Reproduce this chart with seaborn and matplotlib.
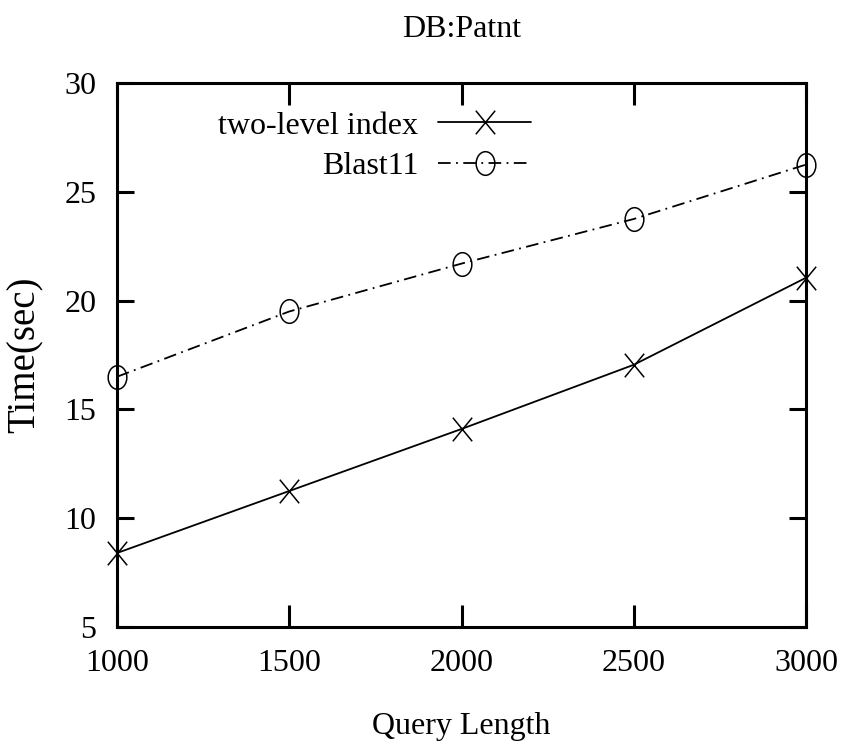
import numpy as np
import pandas as pd
import matplotlib
matplotlib.use("Agg")
import matplotlib.pyplot as plt
import seaborn as sns
from matplotlib.path import Path
from matplotlib.transforms import Affine2D

# ---- data ----
query_length = [1000, 1500, 2000, 2500, 3000]
two_level_index = [8.4, 11.25, 14.1, 17.05, 21.05]
blast11 = [16.5, 19.5, 21.7, 23.75, 26.25]
series_names = ["two-level index", "Blast11"]
x_ticks = [1000, 1500, 2000, 2500, 3000]
y_ticks = [5, 10, 15, 20, 25, 30]
title = "DB:Patnt"
x_label = "Query Length"
y_label = "Time(sec)"

df = pd.DataFrame({
    "Query Length": query_length * 2,
    "Time(sec)": two_level_index + blast11,
    "series": [series_names[0]] * len(query_length) + [series_names[1]] * len(query_length),
})

sns.set_style("ticks")
plt.rcParams["font.family"] = ["Liberation Serif", "DejaVu Serif"]
plt.rcParams["text.color"] = "black"
plt.rcParams["axes.labelcolor"] = "black"
plt.rcParams["axes.titlecolor"] = "black"
plt.rcParams["xtick.color"] = "black"
plt.rcParams["ytick.color"] = "black"

fig = plt.figure(figsize=(8.42, 7.5), dpi=100)
ax = fig.add_axes([117 / 842, 123 / 750, 689 / 842, 544 / 750])

# gnuplot-like markers (slightly taller than wide, as in the reference)
ellipse = Path.unit_circle().transformed(Affine2D().scale(0.79, 1.0))
cross = Path([(-0.41, -0.5), (0.41, 0.5), (-0.41, 0.5), (0.41, -0.5)],
             [Path.MOVETO, Path.LINETO, Path.MOVETO, Path.LINETO])

sns.lineplot(
    data=df, x="Query Length", y="Time(sec)", style="series", style_order=series_names,
    markers={series_names[0]: cross, series_names[1]: ellipse},
    dashes={series_names[0]: "", series_names[1]: (7, 3, 1, 3)},
    color="black", linewidth=1.3, markersize=17, mfc="none", mec="black", mew=1.1,
    clip_on=False, legend=False, ax=ax,
)

ax.set_xlim(1000, 3000)
ax.set_ylim(5, 30)
ax.set_xticks(x_ticks)
ax.set_yticks(y_ticks)
ax.set_xticklabels([str(v) for v in x_ticks])
ax.set_yticklabels([str(v) for v in y_ticks])
ax.tick_params(axis="both", which="major", direction="in", width=2.2,
               top=True, right=True, labelsize=23, colors="black")
ax.tick_params(axis="x", length=15.8, pad=16)
ax.tick_params(axis="y", length=12.2, pad=15)
for s in ax.spines.values():
    s.set_visible(True)
    s.set_linewidth(2.2)
    s.set_color("black")

ax.set_xlabel(x_label, fontsize=23, color="black")
ax.xaxis.set_label_coords(0.5, -0.156)
ax.set_ylabel(y_label, fontsize=28, color="black")
ax.yaxis.set_label_coords(-0.106, 0.5)
ax.set_title(title, fontsize=23, y=(627 - 37) / 544, pad=0, color="black")

# legend: text right-aligned, sample to the right (gnuplot key)
line_by_name = {}
for ln in ax.lines:
    yd = np.asarray(ln.get_ydata(), dtype=float)
    if len(yd) == len(two_level_index) and np.allclose(yd, two_level_index):
        line_by_name[series_names[0]] = ln
    elif len(yd) == len(blast11) and np.allclose(yd, blast11):
        line_by_name[series_names[1]] = ln

leg_kw = dict(frameon=False, markerfirst=False, fontsize=23, handlelength=2.9,
              handletextpad=0.63, borderpad=0, borderaxespad=0, loc="center right",
              numpoints=1, labelcolor="black")
leg1 = ax.legend([line_by_name[series_names[0]]], [series_names[0]],
                 bbox_to_anchor=(0.601, 0.921), **leg_kw)
ax.add_artist(leg1)
ax.legend([line_by_name[series_names[1]]], [series_names[1]],
          bbox_to_anchor=(0.601, 0.846), **leg_kw)

fig.savefig("out.png", dpi=100)
